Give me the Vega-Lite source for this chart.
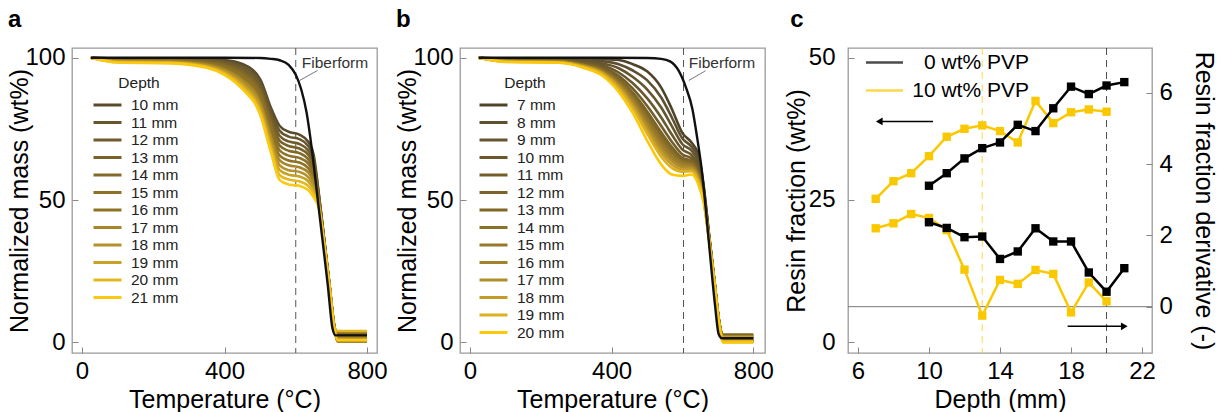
{
  "$schema": "https://vega.github.io/schema/vega-lite/v6.json",
  "padding": {"left": 7, "top": 6, "right": 5, "bottom": 2},
  "config": {
    "font": "Liberation Sans",
    "view": {"stroke": "#9a9a9a", "strokeWidth": 1.3},
    "axis": {"labelFontSize": 24, "titleFontSize": 25, "titleFontWeight": "normal", "labelColor": "#000", "titleColor": "#000", "domain": false, "grid": false, "tickColor": "#888", "tickSize": -6, "tickWidth": 1, "labelPadding": 13, "labelFlush": false, "labelOverlap": false},
    "axisY": {"titlePadding": -8},
    "axisX": {"titlePadding": 4, "labelPadding": 12},
    "title": {"fontSize": 24, "fontWeight": "bold", "anchor": "start", "frame": "bounds", "offset": 14, "color": "#000"},
    "legend": {"padding": 0, "titleFontWeight": "normal"}
  },
  "resolve": {"scale": {"stroke": "independent", "fill": "independent"}},
  "spacing": 83,
  "bounds": "flush",
  "datasets": {
    "tgaA": [
      {"depth": "10 mm", "T": [25,100,250,350,400,450,500,530,555,580,610,635,650,665,680,695,708,718,800], "m": [100,99.8,99.7,99.5,99.2,97.8,92.5,82.5,76.0,74.0,73.0,70.5,66.0,52.0,36.0,20.0,6.0,2.5,2.5]},
      {"depth": "11 mm", "T": [25,100,250,350,400,450,500,530,555,580,610,635,650,665,680,695,708,718,800], "m": [100,99.7,99.5,99.2,98.7,97.0,91.4,81.1,74.3,72.3,71.4,69.0,64.6,51.5,35.8,19.9,5.9,1.5,1.5]},
      {"depth": "12 mm", "T": [25,100,250,350,400,450,500,530,555,580,610,635,650,665,680,695,708,718,800], "m": [100,99.5,99.4,99.0,98.3,96.2,90.2,79.7,72.5,70.6,69.7,67.4,63.3,51.1,35.6,19.8,5.8,3.0,3.0]},
      {"depth": "13 mm", "T": [25,100,250,350,400,450,500,530,555,580,610,635,650,665,680,695,708,718,800], "m": [100,99.4,99.2,98.7,97.8,95.4,89.1,78.3,70.8,69.0,68.1,65.9,61.9,50.6,35.5,19.7,5.7,0.5,0.5]},
      {"depth": "14 mm", "T": [25,100,250,350,400,450,500,530,555,580,610,635,650,665,680,695,708,718,800], "m": [100,99.3,99.1,98.4,97.3,94.6,88.0,76.9,69.1,67.3,66.5,64.3,60.5,50.2,35.3,19.6,5.6,2.0,2.0]},
      {"depth": "15 mm", "T": [25,100,250,350,400,450,500,530,555,580,610,635,650,665,680,695,708,718,800], "m": [100,99.1,98.9,98.1,96.8,93.8,86.8,75.5,67.4,65.6,64.8,62.8,59.2,49.7,35.1,19.5,5.5,1.0,1.0]},
      {"depth": "16 mm", "T": [25,100,250,350,400,450,500,530,555,580,610,635,650,665,680,695,708,718,800], "m": [100,99.0,98.8,97.9,96.4,93.0,85.7,74.0,65.6,63.9,63.2,61.2,57.8,49.3,34.9,19.5,5.5,3.5,3.5]},
      {"depth": "17 mm", "T": [25,100,250,350,400,450,500,530,555,580,610,635,650,665,680,695,708,718,800], "m": [100,98.8,98.6,97.6,95.9,92.2,84.5,72.6,63.9,62.2,61.5,59.7,56.5,48.8,34.7,19.4,5.4,0.3,0.3]},
      {"depth": "18 mm", "T": [25,100,250,350,400,450,500,530,555,580,610,635,650,665,680,695,708,718,800], "m": [100,98.7,98.5,97.3,95.4,91.4,83.4,71.2,62.2,60.5,59.9,58.1,55.1,48.4,34.5,19.3,5.3,2.2,2.2]},
      {"depth": "19 mm", "T": [25,100,250,350,400,450,500,530,555,580,610,635,650,665,680,695,708,718,800], "m": [100,98.6,98.3,97.0,94.9,90.6,82.3,69.8,60.5,58.9,58.3,56.6,53.7,47.9,34.4,19.2,5.2,1.2,1.2]},
      {"depth": "20 mm", "T": [25,100,250,350,400,450,500,530,555,580,610,635,650,665,680,695,708,718,800], "m": [100,98.4,98.2,96.8,94.5,89.8,81.1,68.4,58.7,57.2,56.6,55.0,52.4,47.5,34.2,19.1,5.1,4.0,4.0]},
      {"depth": "21 mm", "T": [25,100,250,350,400,450,500,530,555,580,610,635,650,665,680,695,708,718,800], "m": [100,98.3,98.0,96.5,94.0,89.0,80.0,67.0,57.0,55.5,55.0,53.5,51.0,47.0,34.0,19.0,5.0,0.8,0.8]}
    ],
    "fibA": [
      {"T": [25,250,400,500,530,555,580,600,615,630,645,660,675,690,703,712,800], "m": [100,100,100,99.9,99.6,99.1,97.5,94,89,81,68,52,36,20,5,2.5,2.5]}
    ],
    "tgaB": [
      {"depth": "7 mm", "T": [25,100,250,320,370,420,460,500,540,570,600,625,645,660,675,690,703,715,800], "m": [100,99.8,99.7,99.6,99.5,99.2,97.7,95.2,89.5,82.0,73.5,70.3,66.0,55.0,38.0,22.0,8.0,2.5,2.5]},
      {"depth": "8 mm", "T": [25,100,250,320,370,420,460,500,540,570,600,625,645,660,675,690,703,715,800], "m": [100,99.6,99.5,99.2,98.8,97.7,95.5,92.1,86.0,79.0,71.6,68.8,64.6,54.2,37.7,21.9,7.9,1.0,1.0]},
      {"depth": "9 mm", "T": [25,100,250,320,370,420,460,500,540,570,600,625,645,660,675,690,703,715,800], "m": [100,99.5,99.3,98.8,98.1,96.3,93.2,88.9,82.5,76.0,69.6,67.4,63.3,53.4,37.5,21.7,7.7,0.3,0.3]},
      {"depth": "10 mm", "T": [25,100,250,320,370,420,460,500,540,570,600,625,645,660,675,690,703,715,800], "m": [100,99.3,99.1,98.4,97.4,94.8,91.0,85.8,79.0,73.0,67.7,65.9,61.9,52.7,37.2,21.6,7.6,2.0,2.0]},
      {"depth": "11 mm", "T": [25,100,250,320,370,420,460,500,540,570,600,625,645,660,675,690,703,715,800], "m": [100,99.2,99.0,98.1,96.8,93.6,89.1,83.1,76.0,70.5,66.0,64.7,60.8,52.0,37.0,21.5,7.5,1.5,1.5]},
      {"depth": "12 mm", "T": [25,100,250,320,370,420,460,500,540,570,600,625,645,660,675,690,703,715,800], "m": [100,99.0,98.8,97.8,96.3,92.7,87.7,81.2,73.8,68.7,64.8,63.8,59.9,51.5,36.8,21.4,7.4,0.5,0.5]},
      {"depth": "13 mm", "T": [25,100,250,320,370,420,460,500,540,570,600,625,645,660,675,690,703,715,800], "m": [100,99.0,98.8,97.6,96.0,92.1,86.9,80.0,72.5,67.5,64.1,63.2,59.4,51.2,36.7,21.4,7.4,2.8,2.8]},
      {"depth": "14 mm", "T": [25,100,250,320,370,420,460,500,540,570,600,625,645,660,675,690,703,715,800], "m": [100,98.9,98.7,97.5,95.8,91.7,86.2,79.0,71.4,66.6,63.5,62.7,59.0,51.0,36.7,21.3,7.3,1.2,1.2]},
      {"depth": "15 mm", "T": [25,100,250,320,370,420,460,500,540,570,600,625,645,660,675,690,703,715,800], "m": [100,98.9,98.6,97.4,95.5,91.1,85.3,77.8,70.1,65.4,62.7,62.2,58.4,50.7,36.6,21.3,7.3,0.2,0.2]},
      {"depth": "16 mm", "T": [25,100,250,320,370,420,460,500,540,570,600,625,645,660,675,690,703,715,800], "m": [100,98.8,98.6,97.2,95.3,90.7,84.6,76.8,69.0,64.5,62.1,61.7,58.0,50.4,36.5,21.2,7.2,2.2,2.2]},
      {"depth": "17 mm", "T": [25,100,250,320,370,420,460,500,540,570,600,625,645,660,675,690,703,715,800], "m": [100,98.8,98.5,97.1,95.1,90.2,83.9,75.8,67.9,63.6,61.5,61.3,57.6,50.2,36.4,21.2,7.2,0.8,0.8]},
      {"depth": "18 mm", "T": [25,100,250,320,370,420,460,500,540,570,600,625,645,660,675,690,703,715,800], "m": [100,98.7,98.4,97.0,94.8,89.7,83.1,74.6,66.6,62.5,60.8,60.7,57.1,49.9,36.3,21.2,7.2,1.8,1.8]},
      {"depth": "19 mm", "T": [25,100,250,320,370,420,460,500,540,570,600,625,645,660,675,690,703,715,800], "m": [100,98.6,98.4,96.8,94.6,89.1,82.2,73.4,65.2,61.3,60.0,60.1,56.6,49.6,36.2,21.1,7.1,0.5,0.5]},
      {"depth": "20 mm", "T": [25,100,250,320,370,420,460,500,540,570,600,625,645,660,675,690,703,715,800], "m": [100,98.5,98.2,96.5,94.0,88.0,80.5,71.0,62.5,59.0,58.5,59.0,55.5,49.0,36.0,21.0,7.0,0.0,0.0]}
    ],
    "fibB": [
      {"T": [25,250,400,500,540,565,590,610,628,642,655,668,680,692,702,712,800], "m": [100,100,100,99.9,99.6,98.7,95.3,89.5,82,71.5,60,44,28,13,3,1.5,1.5]}
    ],
    "resin": [
      {"pvp": "10 wt% PVP", "depth": 7, "v": 25.2},
      {"pvp": "10 wt% PVP", "depth": 8, "v": 28.3},
      {"pvp": "10 wt% PVP", "depth": 9, "v": 29.7},
      {"pvp": "10 wt% PVP", "depth": 10, "v": 32.7},
      {"pvp": "10 wt% PVP", "depth": 11, "v": 36.1},
      {"pvp": "10 wt% PVP", "depth": 12, "v": 37.5},
      {"pvp": "10 wt% PVP", "depth": 13, "v": 38.1},
      {"pvp": "10 wt% PVP", "depth": 14, "v": 37.1},
      {"pvp": "10 wt% PVP", "depth": 15, "v": 35.1},
      {"pvp": "10 wt% PVP", "depth": 16, "v": 42.4},
      {"pvp": "10 wt% PVP", "depth": 17, "v": 38.5},
      {"pvp": "10 wt% PVP", "depth": 18, "v": 40.4},
      {"pvp": "10 wt% PVP", "depth": 19, "v": 40.9},
      {"pvp": "10 wt% PVP", "depth": 20, "v": 40.5},
      {"pvp": "0 wt% PVP", "depth": 10, "v": 27.5},
      {"pvp": "0 wt% PVP", "depth": 11, "v": 29.7},
      {"pvp": "0 wt% PVP", "depth": 12, "v": 32.3},
      {"pvp": "0 wt% PVP", "depth": 13, "v": 34.1},
      {"pvp": "0 wt% PVP", "depth": 14, "v": 35.1},
      {"pvp": "0 wt% PVP", "depth": 15, "v": 38.2},
      {"pvp": "0 wt% PVP", "depth": 16, "v": 37.1},
      {"pvp": "0 wt% PVP", "depth": 17, "v": 41.1},
      {"pvp": "0 wt% PVP", "depth": 18, "v": 44.9},
      {"pvp": "0 wt% PVP", "depth": 19, "v": 43.6},
      {"pvp": "0 wt% PVP", "depth": 20, "v": 45.1},
      {"pvp": "0 wt% PVP", "depth": 21, "v": 45.7}
    ],
    "deriv": [
      {"pvp": "10 wt% PVP", "depth": 7, "v": 2.20},
      {"pvp": "10 wt% PVP", "depth": 8, "v": 2.34},
      {"pvp": "10 wt% PVP", "depth": 9, "v": 2.60},
      {"pvp": "10 wt% PVP", "depth": 10, "v": 2.49},
      {"pvp": "10 wt% PVP", "depth": 11, "v": 2.15},
      {"pvp": "10 wt% PVP", "depth": 12, "v": 1.04},
      {"pvp": "10 wt% PVP", "depth": 13, "v": -0.25},
      {"pvp": "10 wt% PVP", "depth": 14, "v": 0.75},
      {"pvp": "10 wt% PVP", "depth": 15, "v": 0.64},
      {"pvp": "10 wt% PVP", "depth": 16, "v": 1.03},
      {"pvp": "10 wt% PVP", "depth": 17, "v": 0.92},
      {"pvp": "10 wt% PVP", "depth": 18, "v": -0.16},
      {"pvp": "10 wt% PVP", "depth": 19, "v": 0.68},
      {"pvp": "10 wt% PVP", "depth": 20, "v": 0.15},
      {"pvp": "0 wt% PVP", "depth": 10, "v": 2.37},
      {"pvp": "0 wt% PVP", "depth": 11, "v": 2.21},
      {"pvp": "0 wt% PVP", "depth": 12, "v": 1.95},
      {"pvp": "0 wt% PVP", "depth": 13, "v": 1.97},
      {"pvp": "0 wt% PVP", "depth": 14, "v": 1.34},
      {"pvp": "0 wt% PVP", "depth": 15, "v": 1.55},
      {"pvp": "0 wt% PVP", "depth": 16, "v": 2.20},
      {"pvp": "0 wt% PVP", "depth": 17, "v": 1.83},
      {"pvp": "0 wt% PVP", "depth": 18, "v": 1.83},
      {"pvp": "0 wt% PVP", "depth": 19, "v": 0.96},
      {"pvp": "0 wt% PVP", "depth": 20, "v": 0.42},
      {"pvp": "0 wt% PVP", "depth": 21, "v": 1.08}
    ]
  },
  "hconcat": [
    {
      "width": 305, "height": 305,
      "title": {"text": "a"},
      "layer": [
        {"data": {"values": [{"T": 600}]}, "mark": {"type": "rule", "stroke": "#555", "strokeDash": [7, 5], "strokeWidth": 1}, "encoding": {"x": {"field": "T", "type": "quantitative", "scale": {"domain": [-28, 828], "nice": false, "zero": false}}}},
        {"data": {"name": "tgaA"}, "transform": [{"flatten": ["T", "m"]}],
         "mark": {"type": "line", "interpolate": "monotone", "strokeWidth": 2.6},
         "encoding": {
           "x": {"field": "T", "type": "quantitative", "scale": {"domain": [-28, 828], "nice": false, "zero": false}, "axis": {"values": [0, 400, 800], "title": "Temperature (°C)"}},
           "y": {"field": "m", "type": "quantitative", "scale": {"domain": [-3.7, 103.4], "nice": false, "zero": false}, "axis": {"values": [0, 50, 100], "title": "Normalized mass (wt%)"}},
           "stroke": {"field": "depth", "type": "nominal",
             "scale": {"domain": ["10 mm","11 mm","12 mm","13 mm","14 mm","15 mm","16 mm","17 mm","18 mm","19 mm","20 mm","21 mm"],
                       "range": ["#5a4b2c","#66562e","#6f5b2c","#78622a","#826a29","#8d7128","#8f7322","#a5862a","#b3912b","#c8a127","#e3b71f","#fbc812"]},
             "legend": {"orient": "none", "legendX": 27, "legendY": 28, "title": "Depth", "titleAnchor": "middle", "titleFontSize": 15.5, "titleColor": "#222", "titlePadding": 5, "labelFontSize": 15.5, "labelColor": "#222", "symbolType": "M-2,0H2", "symbolSize": 196, "symbolStrokeWidth": 3, "labelOffset": 15, "rowPadding": 0.5}}
         }},
        {"data": {"name": "fibA"}, "transform": [{"flatten": ["T", "m"]}],
         "mark": {"type": "line", "interpolate": "monotone", "strokeWidth": 2.4, "stroke": "#111"},
         "encoding": {"x": {"field": "T", "type": "quantitative"}, "y": {"field": "m", "type": "quantitative"}}},
        {"data": {"values": [{"T": 611, "m": 92, "T2": 661, "m2": 95.5}]}, "mark": {"type": "rule", "stroke": "#777", "strokeWidth": 1},
         "encoding": {"x": {"field": "T", "type": "quantitative"}, "y": {"field": "m", "type": "quantitative"}, "x2": {"field": "T2"}, "y2": {"field": "m2"}}},
        {"data": {"values": [{"T": 617, "m": 98, "label": "Fiberform"}]}, "mark": {"type": "text", "align": "left", "baseline": "middle", "fontSize": 15.5, "color": "#333"},
         "encoding": {"x": {"field": "T", "type": "quantitative"}, "y": {"field": "m", "type": "quantitative"}, "text": {"field": "label"}}}
      ]
    },
    {
      "width": 305, "height": 305,
      "title": {"text": "b"},
      "layer": [
        {"data": {"values": [{"T": 603}]}, "mark": {"type": "rule", "stroke": "#555", "strokeDash": [7, 5], "strokeWidth": 1}, "encoding": {"x": {"field": "T", "type": "quantitative", "scale": {"domain": [-28, 833], "nice": false, "zero": false}}}},
        {"data": {"name": "tgaB"}, "transform": [{"flatten": ["T", "m"]}],
         "mark": {"type": "line", "interpolate": "monotone", "strokeWidth": 2.6},
         "encoding": {
           "x": {"field": "T", "type": "quantitative", "scale": {"domain": [-28, 833], "nice": false, "zero": false}, "axis": {"values": [0, 400, 800], "title": "Temperature (°C)"}},
           "y": {"field": "m", "type": "quantitative", "scale": {"domain": [-3.7, 103.4], "nice": false, "zero": false}, "axis": {"values": [0, 50, 100], "title": "Normalized mass (wt%)"}},
           "stroke": {"field": "depth", "type": "nominal",
             "scale": {"domain": ["7 mm","8 mm","9 mm","10 mm","11 mm","12 mm","13 mm","14 mm","15 mm","16 mm","17 mm","18 mm","19 mm","20 mm"],
                       "range": ["#4f4429","#5e5030","#65552e","#6a582c","#725e2b","#7a6429","#7f6623","#8c7228","#98792a","#a2822b","#b18e2c","#c39c29","#dcb020","#fbc80c"]},
             "legend": {"orient": "none", "legendX": 25, "legendY": 28, "title": "Depth", "titleAnchor": "middle", "titleFontSize": 15.5, "titleColor": "#222", "titlePadding": 5, "labelFontSize": 15.5, "labelColor": "#222", "symbolType": "M-2,0H2", "symbolSize": 196, "symbolStrokeWidth": 3, "labelOffset": 15, "rowPadding": 0.5}}
         }},
        {"data": {"name": "fibB"}, "transform": [{"flatten": ["T", "m"]}],
         "mark": {"type": "line", "interpolate": "monotone", "strokeWidth": 2.4, "stroke": "#111"},
         "encoding": {"x": {"field": "T", "type": "quantitative"}, "y": {"field": "m", "type": "quantitative"}}},
        {"data": {"values": [{"T": 618, "m": 92, "T2": 665, "m2": 95.4}]}, "mark": {"type": "rule", "stroke": "#777", "strokeWidth": 1},
         "encoding": {"x": {"field": "T", "type": "quantitative"}, "y": {"field": "m", "type": "quantitative"}, "x2": {"field": "T2"}, "y2": {"field": "m2"}}},
        {"data": {"values": [{"T": 618, "m": 98, "label": "Fiberform"}]}, "mark": {"type": "text", "align": "left", "baseline": "middle", "fontSize": 15.5, "color": "#333"},
         "encoding": {"x": {"field": "T", "type": "quantitative"}, "y": {"field": "m", "type": "quantitative"}, "text": {"field": "label"}}}
      ]
    },
    {
      "width": 304, "height": 305,
      "title": {"text": "c", "dx": 6},
      "resolve": {"scale": {"y": "independent"}},
      "layer": [
        {"data": {"values": [{"depth": 13, "pvp": "10 wt% PVP"}, {"depth": 20, "pvp": "0 wt% PVP"}]},
         "mark": {"type": "rule", "strokeDash": [7, 5], "strokeWidth": 1, "opacity": 0.7},
         "encoding": {
           "x": {"field": "depth", "type": "quantitative", "scale": {"domain": [5.44, 22.56], "nice": false, "zero": false}, "axis": {"values": [6, 10, 14, 18, 22], "title": "Depth (mm)"}},
           "stroke": {"field": "pvp", "type": "nominal", "scale": {"domain": ["0 wt% PVP", "10 wt% PVP"], "range": ["#000000", "#fac800"]},
             "legend": {"orient": "none", "legendX": 26, "legendY": 4, "title": null, "labelFontSize": 21, "labelColor": "#000", "symbolType": "M-3,0H3", "symbolSize": 152, "symbolStrokeWidth": 2.5, "labelAlign": "right", "labelOffset": 134, "rowPadding": 6}}
         }},
        {"data": {"values": [{"v": 0}]}, "mark": {"type": "rule", "stroke": "#777", "strokeWidth": 1},
         "encoding": {"y": {"field": "v", "type": "quantitative", "scale": {"domain": [-1.3, 7.26], "nice": false, "zero": false}, "axis": null}}},
        {
          "encoding": {"y": {"field": "v", "type": "quantitative", "scale": {"domain": [-1.88, 51.69], "nice": false, "zero": false}, "axis": {"values": [0, 25, 50], "title": "Resin fraction (wt%)", "labelPadding": 19, "titlePadding": -1}}},
          "layer": [
            {"data": {"name": "resin"}, "mark": {"type": "line", "strokeWidth": 2.5},
             "encoding": {
               "x": {"field": "depth", "type": "quantitative"},
               "stroke": {"field": "pvp", "type": "nominal", "scale": {"domain": ["0 wt% PVP", "10 wt% PVP"], "range": ["#000000", "#fac800"]},
                 "legend": {"orient": "none", "legendX": 26, "legendY": 4, "title": null, "labelFontSize": 21, "labelColor": "#000", "symbolType": "M-3,0H3", "symbolSize": 152, "symbolStrokeWidth": 2.5, "labelAlign": "right", "labelOffset": 134, "rowPadding": 6}}
             }},
            {"data": {"name": "resin"}, "mark": {"type": "square", "size": 70, "opacity": 1},
             "encoding": {
               "x": {"field": "depth", "type": "quantitative"},
               "fill": {"field": "pvp", "type": "nominal", "scale": {"domain": ["0 wt% PVP", "10 wt% PVP"], "range": ["#000000", "#fac800"]}, "legend": null}
             }},
            {"data": {"values": [{"depth": 7.3, "depth2": 10.23, "v": 38.8}]}, "mark": {"type": "rule", "stroke": "#000", "strokeWidth": 1.5},
             "encoding": {"x": {"field": "depth", "type": "quantitative"}, "x2": {"field": "depth2"}}},
            {"data": {"values": [{"depth": 7.2, "v": 38.8}]}, "mark": {"type": "point", "shape": "triangle-left", "size": 60, "filled": true, "color": "#000", "opacity": 1},
             "encoding": {"x": {"field": "depth", "type": "quantitative"}}}
          ]
        },
        {
          "encoding": {"y": {"field": "v", "type": "quantitative", "scale": {"domain": [-1.3, 7.26], "nice": false, "zero": false}, "axis": {"orient": "right", "values": [0, 2, 4, 6], "title": "Resin fraction derivative (-)", "titlePadding": 18}}},
          "layer": [
            {"data": {"name": "deriv"}, "mark": {"type": "line", "strokeWidth": 2.5},
             "encoding": {
               "x": {"field": "depth", "type": "quantitative"},
               "stroke": {"field": "pvp", "type": "nominal", "scale": {"domain": ["0 wt% PVP", "10 wt% PVP"], "range": ["#000000", "#fac800"]},
                 "legend": {"orient": "none", "legendX": 26, "legendY": 4, "title": null, "labelFontSize": 21, "labelColor": "#000", "symbolType": "M-3,0H3", "symbolSize": 152, "symbolStrokeWidth": 2.5, "labelAlign": "right", "labelOffset": 134, "rowPadding": 6}}
             }},
            {"data": {"name": "deriv"}, "mark": {"type": "square", "size": 70, "opacity": 1},
             "encoding": {
               "x": {"field": "depth", "type": "quantitative"},
               "fill": {"field": "pvp", "type": "nominal", "scale": {"domain": ["0 wt% PVP", "10 wt% PVP"], "range": ["#000000", "#fac800"]}, "legend": null}
             }},
            {"data": {"values": [{"depth": 17.81, "depth2": 20.95, "v": -0.55}]}, "mark": {"type": "rule", "stroke": "#000", "strokeWidth": 1.5},
             "encoding": {"x": {"field": "depth", "type": "quantitative"}, "x2": {"field": "depth2"}}},
            {"data": {"values": [{"depth": 21.0, "v": -0.55}]}, "mark": {"type": "point", "shape": "triangle-right", "size": 60, "filled": true, "color": "#000", "opacity": 1},
             "encoding": {"x": {"field": "depth", "type": "quantitative"}}}
          ]
        }
      ]
    }
  ]
}
